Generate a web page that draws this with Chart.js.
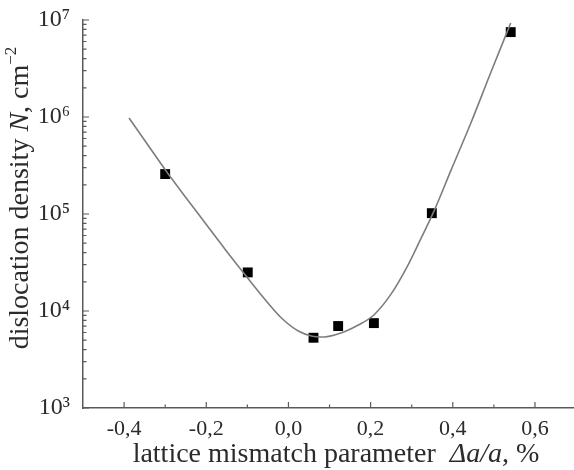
<!DOCTYPE html>
<html><head><meta charset="utf-8">
<script src="https://cdn.jsdelivr.net/npm/chart.js@4/dist/chart.umd.min.js"></script>
<style>html,body{margin:0;padding:0;background:#fff}#wrap{width:574px;height:470px}</style>
</head><body><div id="wrap"><canvas id="c" width="574" height="470"></canvas></div>
<script>
// measured points
const mismatch = [-0.30, -0.099, 0.061, 0.121, 0.208, 0.349, 0.541];
const density  = [2.58e5, 2.5e4, 5.3e3, 7.0e3, 7.5e3, 1.02e5, 7.5e6];
// fitted curve
const fitX = [-0.388, -0.342, -0.296, -0.247, -0.199, -0.153, -0.107, -0.058, -0.017, 0.024, 0.056, 0.087, 0.128, 0.170, 0.208, 0.250, 0.291, 0.322, 0.352, 0.395, 0.444, 0.492, 0.541];
const fitY = [9.76e5, 5.14e5, 2.71e5, 1.43e5, 7.70e4, 4.26e4, 2.41e4, 1.33e4, 8.47e3, 6.22e3, 5.53e3, 5.40e3, 5.93e3, 7.17e3, 9.10e3, 1.50e4, 2.98e4, 5.53e4, 1.02e5, 2.78e5, 8.67e5, 2.84e6, 9.31e6];
const xTicks = [-0.4, -0.2, 0.0, 0.2, 0.4, 0.6];
const xMinorTicks = [-0.3, -0.1, 0.1, 0.3, 0.5];
const yTicks = [1e3, 1e4, 1e5, 1e6, 1e7];
const yTickLabels = ['10³', '10⁴', '10⁵', '10⁶', '10⁷'];
const xTitle = [{t:'lattice mismatch parameter  '}, {t:'Δa/a', i:true}, {t:', %'}];
const yTitle = [{t:'dislocation density '}, {t:'N', i:true}, {t:', cm'}, {t:'−2', sup:true}];

const FONT = '"Liberation Serif", "DejaVu Serif", serif';
const TEXT = '#2b2b2b';
const AXIS = '#5a5a5a';

function fontStr(size, italic){ return (italic ? 'italic ' : '') + size + 'px ' + FONT; }
function drawRich(ctx, segs, cx, cy, rot, size){
  ctx.save();
  ctx.translate(cx, cy); ctx.rotate(rot);
  ctx.textBaseline = 'middle'; ctx.textAlign = 'left'; ctx.fillStyle = TEXT;
  let w = 0;
  const parts = segs.map(s => {
    const sz = s.sup ? Math.round(size*0.6) : size;
    ctx.font = fontStr(sz, s.i);
    const m = ctx.measureText(s.t).width;
    const p = {s, sz, m, x:w}; w += m; return p;
  });
  parts.forEach(p => {
    ctx.font = fontStr(p.sz, p.s.i);
    ctx.fillText(p.s.t, p.x - w/2, p.s.sup ? -size*0.33 : 0);
  });
  ctx.restore();
}

const decor = {
  id: 'decor',
  afterDraw(chart){
    const {ctx, scales:{x, y}, chartArea:a} = chart;
    ctx.save();
    ctx.strokeStyle = AXIS; ctx.lineWidth = 1.2;
    ctx.beginPath();
    yTicks.forEach((v, k) => {
      const py = y.getPixelForValue(v);
      ctx.moveTo(a.left, py); ctx.lineTo(a.left + 6, py);
      if (k < yTicks.length - 1) {
        for (let m = 2; m <= 9; m++) {
          const pm = y.getPixelForValue(v*m);
          ctx.moveTo(a.left, pm); ctx.lineTo(a.left + 3.5, pm);
        }
      }
    });
    xTicks.forEach(v => { const px = x.getPixelForValue(v); ctx.moveTo(px, a.bottom); ctx.lineTo(px, a.bottom - 6); });
    xMinorTicks.forEach(v => { const px = x.getPixelForValue(v); ctx.moveTo(px, a.bottom); ctx.lineTo(px, a.bottom - 3.5); });
    ctx.stroke();
    ctx.restore();
    drawRich(ctx, xTitle, 336, 455, 0, 28);
    drawRich(ctx, yTitle, 21, 198, -Math.PI/2, 28);
  }
};

new Chart(document.getElementById('c'), {
  type: 'scatter',
  data: {
    datasets: [
      { label:'fit', data: fitX.map((v,i)=>({x:v, y:fitY[i]})), showLine:true, borderColor:'#7d7d7d', borderWidth:1.6, pointRadius:0, cubicInterpolationMode:'monotone', fill:false },
      { label:'data', data: mismatch.map((v,i)=>({x:v, y:density[i]})), pointStyle:'rect', pointRadius:7, backgroundColor:'#000', borderColor:'#000', borderWidth:0 }
    ]
  },
  plugins: [decor],
  options: {
    responsive:false, animation:false, devicePixelRatio:1,
    layout:{ autoPadding:false, padding:{ top:20, right:0, left:0, bottom:0 } },
    plugins:{ legend:{display:false}, tooltip:{enabled:false} },
    scales:{
      x:{
        type:'linear', min:-0.5, max:0.695,
        grid:{display:false, drawTicks:false},
        border:{display:true, color:AXIS, width:1.5},
        afterBuildTicks: s => { s.ticks = xTicks.map(v=>({value:v})); },
        afterFit: s => { s.height = 62; s.paddingLeft = 0; s.paddingRight = 0; },
        ticks:{ padding:8, color:TEXT, font:{family:FONT, size:22}, maxRotation:0,
          callback: v => (Math.round(v*10)/10).toFixed(1).replace('.', ',') }
      },
      y:{
        type:'logarithmic', min:1e3, max:1e7,
        grid:{display:false, drawTicks:false},
        border:{display:true, color:AXIS, width:1.5},
        afterBuildTicks: s => { s.ticks = yTicks.map(v=>({value:v})); },
        afterFit: s => { s.width = 83; s.paddingTop = 0; s.paddingBottom = 0; },
        ticks:{ padding:13, color:TEXT, font:{family:FONT, size:24},
          callback: v => { const k = yTicks.indexOf(v); return k >= 0 ? yTickLabels[k] : ''; } }
      }
    }
  }
});
</script>
</body></html>
